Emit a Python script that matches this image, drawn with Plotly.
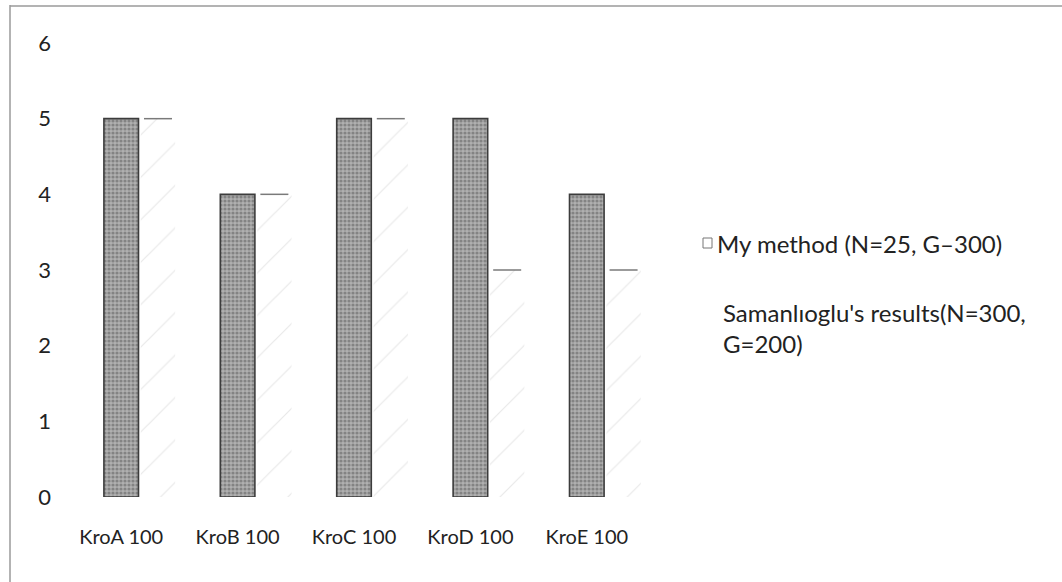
import plotly.graph_objects as go

categories = ["KroA 100", "KroB 100", "KroC 100", "KroD 100", "KroE 100"]
my_method = [5, 4, 5, 5, 4]
samanlioglu = [5, 4, 5, 3, 3]
y_ticks = [0, 1, 2, 3, 4, 5, 6]
legend_lines = ["My method (N=25, G\u2013300)", "Samanl\u0131oglu's results(N=300,", "G=200)"]

FONT = "Lato"
idx = list(range(len(categories)))

W1 = 0.297
OFF1 = -W1 / 2
W2 = 0.295
OFF2 = W1 / 2 + 0.02

fig = go.Figure()
fig.add_trace(go.Bar(
    x=idx, y=my_method, width=W1, offset=OFF1, name=legend_lines[0],
    marker=dict(color="#9a9a9a",
                line=dict(color="#3c3c3c", width=1.6),
                pattern=dict(shape=".", fgcolor="#555555", bgcolor="#b0b0b0",
                             size=4, solidity=0.5)),
    showlegend=False,
))
fig.add_trace(go.Bar(
    x=idx, y=samanlioglu, width=W2, offset=OFF2, name=legend_lines[1],
    marker=dict(color="white",
                line=dict(color="rgba(0,0,0,0)", width=0),
                pattern=dict(shape="/", fgcolor="#d2d2d2", bgcolor="white",
                             size=30, solidity=0.04)),
    showlegend=False,
))
# top edge of the second series bars
fig.add_trace(go.Scatter(
    x=[i + OFF2 + W2 / 2 for i in idx], y=samanlioglu, mode="markers",
    marker=dict(symbol="line-ew", size=20, line=dict(color="#7a7a7a", width=1.5)),
    showlegend=False, hoverinfo="skip",
))

L, R, T, B = 63, 417, 43, 85
PW, PH = 1062 - L - R, 582 - T - B

def px(xp):
    return (xp - L) / PW

def py(yp):
    return (582 - B - yp) / PH

TXT = "#222222"
fig.update_layout(
    width=1062, height=582,
    margin=dict(l=L, r=R, t=T, b=B),
    paper_bgcolor="white", plot_bgcolor="white",
    barmode="overlay",
    font=dict(family=FONT, size=20, color=TXT),
    xaxis=dict(range=[-0.5, len(categories) - 0.5], tickmode="array",
               tickvals=idx, ticktext=categories, showgrid=False,
               zeroline=False, showline=False, ticks="", ticklabelstandoff=26,
               tickfont=dict(family=FONT, size=20, color=TXT)),
    yaxis=dict(range=[0, 6], tickmode="array", tickvals=y_ticks,
               showgrid=False, zeroline=False, showline=False, ticks="",
               ticklabelstandoff=11,
               tickfont=dict(family=FONT, size=22, color=TXT)),
    shapes=[
        dict(type="line", xref="paper", yref="paper", x0=px(10), x1=px(10),
             y0=py(5), y1=py(582), line=dict(color="#9a9a9a", width=1.5)),
        dict(type="line", xref="paper", yref="paper", x0=px(10), x1=px(1062),
             y0=py(6), y1=py(6), line=dict(color="#9a9a9a", width=1.5)),
        dict(type="rect", xref="paper", yref="paper", x0=px(703), x1=px(712),
             y0=py(248), y1=py(238), line=dict(color="#777777", width=1),
             fillcolor="white"),
    ],
    annotations=[
        dict(xref="paper", yref="paper", x=px(715), y=py(243), xanchor="left",
             yanchor="middle", text=legend_lines[0], showarrow=False,
             font=dict(family=FONT, size=24, color=TXT)),
        dict(xref="paper", yref="paper", x=px(721), y=py(312), xanchor="left",
             yanchor="middle", text=legend_lines[1], showarrow=False,
             font=dict(family=FONT, size=24, color=TXT)),
        dict(xref="paper", yref="paper", x=px(721), y=py(343), xanchor="left",
             yanchor="middle", text=legend_lines[2], showarrow=False,
             font=dict(family=FONT, size=24, color=TXT)),
    ],
)

fig.write_html("out.html")
